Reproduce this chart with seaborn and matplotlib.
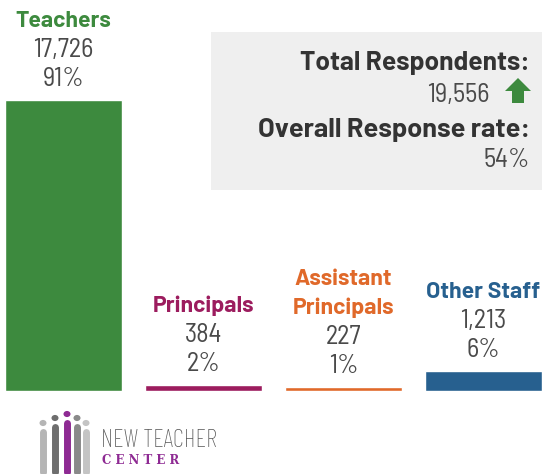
import matplotlib
matplotlib.use("Agg")
import matplotlib.pyplot as plt
import seaborn as sns
import pandas as pd
from matplotlib.patches import Rectangle, Polygon, Circle
from matplotlib.lines import Line2D

# data
roles = ["Teachers", "Principals", "Assistant\nPrincipals", "Other Staff"]
counts = [17726, 384, 227, 1213]
count_labels = ["17,726", "384", "227", "1,213"]
pct_labels = ["91%", "2%", "1%", "6%"]
colors = ["#3d8a3e", "#9c1c5e", "#e0692a", "#27608f"]
total_label = "19,556"
rate_label = "54%"

W, H = 542, 474
sns.set_theme(style="white")
plt.rcParams["font.family"] = ["Barlow", "DejaVu Sans"]

fig = plt.figure(figsize=(W / 100, H / 100), dpi=100)
fig.patch.set_facecolor("white")

def fx(x):
    return x / W

def fy(y):
    return 1 - y / H

# axes: bottom of bars at y=391px, teachers bar top at 100px
ax = fig.add_axes([0, fy(391), 1, 391 / H])
ax.patch.set_visible(False)

df = pd.DataFrame({"role": roles, "count": counts})
sns.barplot(data=df, x="role", y="count", hue="role", palette=colors,
            width=0.83, legend=False, ax=ax, saturation=1)
ax.set_xlim(-0.4536, 3.418)
ax.set_ylim(0, counts[0] * 391 / 291)
ax.set_axis_off()

num_font = ["Barlow Semi Condensed", "DejaVu Sans"]
num_col = "#4a4a4a"
for i, (r, c) in enumerate(zip(roles, counts)):
    ax.annotate(pct_labels[i], xy=(i, c), xytext=(0, 14), textcoords="offset pixels",
                ha="center", va="baseline", fontsize=19, fontweight="normal",
                color=num_col, family=num_font)
    ax.annotate(count_labels[i], xy=(i, c), xytext=(0, 43), textcoords="offset pixels",
                ha="center", va="baseline", fontsize=19, fontweight="normal",
                color=num_col, family=num_font)
    lines = r.split("\n")
    for j, ln in enumerate(reversed(lines)):
        ax.annotate(ln, xy=(i, c), xytext=(0, 73 + 29.5 * j), textcoords="offset pixels",
                    ha="center", va="baseline", fontsize=16.5, fontweight="bold",
                    color=colors[i])

# grey summary box
fig.patches.append(Rectangle((fx(211), fy(190)), fx(542) - fx(211), fy(32) - fy(190),
                             transform=fig.transFigure, facecolor="#efefef",
                             edgecolor="none", zorder=0))
fig.text(fx(530), fy(70), "Total Respondents:", ha="right", va="baseline",
         fontsize=19, fontweight="bold", color="#333333")
fig.text(fx(489), fy(102), total_label, ha="right", va="baseline",
         fontsize=19, fontweight="normal", color=num_col, family=num_font)
fig.text(fx(530), fy(137), "Overall Response rate:", ha="right", va="baseline",
         fontsize=19.5, fontweight="bold", color="#333333")
fig.text(fx(530), fy(167), rate_label, ha="right", va="baseline",
         fontsize=19, fontweight="normal", color=num_col, family=num_font)

# green up arrow
arrow = [(518, 78), (531, 91), (524, 91), (524, 103), (512, 103), (512, 91), (505, 91)]
fig.patches.append(Polygon([(fx(x), fy(y)) for x, y in arrow], closed=True,
                           transform=fig.transFigure, facecolor="#3d8a3e",
                           edgecolor="none"))

# logo
people = [(43, 423, "#b5b5b5"), (55, 418, "#6e6e6e"), (67, 414, "#8e2a93"),
          (77, 418, "#8a8a8a"), (86, 423, "#c4c4c4")]
for px, py, col in people:
    fig.patches.append(Circle((fx(px), fy(py)), 3.5 / W, transform=fig.transFigure,
                              facecolor=col, edgecolor="none"))
    fig.lines.append(Line2D([fx(px), fx(px)], [fy(py + 9), fy(472)], transform=fig.transFigure,
                            color=col, linewidth=5, solid_capstyle="round"))
fig.text(fx(101), fy(447), "NEW TEACHER", ha="left", va="baseline", fontsize=18,
         fontweight="light", color="#555555", family=["Barlow Condensed", "DejaVu Sans"])
fig.text(fx(102), fy(464), "C E N T E R", ha="left", va="baseline", fontsize=8.5,
         fontweight="bold", color="#8e2a93", family=["DejaVu Serif"])

fig.savefig("out.png", dpi=100)
